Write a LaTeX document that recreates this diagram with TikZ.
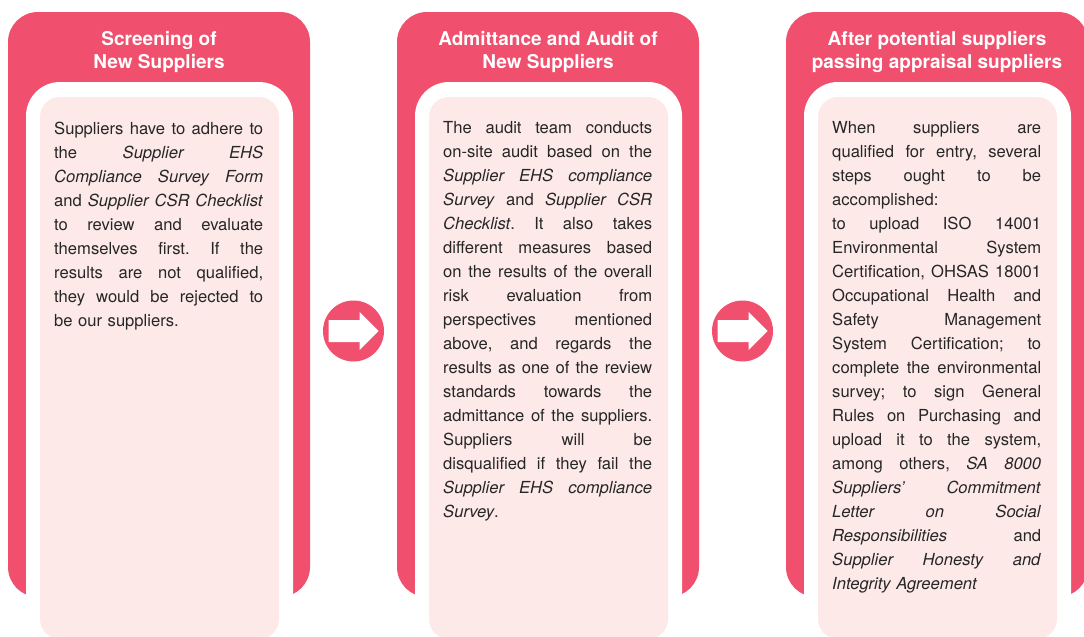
\documentclass[tikz,border=0pt]{standalone}
\usepackage{fontspec}
\setmainfont{TeX Gyre Heros}
\definecolor{redc}{HTML}{F04F6D}
\definecolor{pinkc}{HTML}{FCE9E8}
\definecolor{txtc}{HTML}{262626}
\frenchspacing
\newcommand\jl[1]{\makebox[209pt][s]{\spaceskip=0.25em plus 1fil\relax\xspaceskip=\spaceskip #1}}
\begin{document}
\begin{tikzpicture}[x=1pt,y=-1pt,
  titletext/.style={text=white,font=\bfseries\fontsize{19}{23}\selectfont,align=center,inner sep=0pt},
  bodytext/.style={text=txtc,font=\fontsize{16.6}{24}\selectfont\frenchspacing,text width=209pt,align=left,inner sep=0pt,anchor=north west},
  outerbox/.style={fill=redc,rounded corners=30pt},
  innerbox/.style={fill=white,rounded corners=34pt},
  pinkbox/.style={fill=pinkc,rounded corners=20pt},
  arrowdisc/.style={circle,fill=redc,minimum size=61pt,inner sep=0pt}]
\useasboundingbox (0,0) rectangle (1084,637);
\clip (0,0) rectangle (1084,637);
\foreach \dx in {0,389,778}{
  \fill[outerbox] (8+\dx,12) rectangle (310+\dx,597);
  \fill[innerbox] (26+\dx,82) rectangle (293+\dx,700);
  \fill[pinkbox] (40+\dx,97) rectangle (279+\dx,639);
}
% arrows
\foreach \cx/\nm in {353.5/a1,742.5/a2}{
  \node[arrowdisc] (\nm) at (\cx,331) {};
  \fill[white] (\cx-25,320) -- (\cx+6,320) -- (\cx+6,312) -- (\cx+25,331) -- (\cx+6,350) -- (\cx+6,342) -- (\cx-25,342) -- cycle;
}
% titles
\node[titletext] (t1) at (159,52) {Screening of\\New Suppliers};
\node[titletext] (t2) at (548,52) {Admittance and Audit of\\New Suppliers};
\node[titletext] (t3) at (937,52) {After potential suppliers\\passing appraisal suppliers};
% bodies
\node[bodytext] (b1) at (54,121.5) {%
\jl{Suppliers have to adhere to}\\
\jl{the \textit{Supplier EHS}}\\
\jl{\textit{Compliance Survey Form}}\\
\jl{and \textit{Supplier CSR Checklist}}\\
\jl{to review and evaluate}\\
\jl{themselves first. If the}\\
\jl{results are not qualified,}\\
\jl{they would be rejected to}\\
be our suppliers.};
\node[bodytext] (b2) at (443,121.5) {%
\jl{The audit team conducts}\\
\jl{on-site audit based on the}\\
\jl{\textit{Supplier EHS compliance}}\\
\jl{\textit{Survey} and \textit{Supplier CSR}}\\
\jl{\textit{Checklist}. It also takes}\\
\jl{different measures based}\\
\jl{on the results of the overall}\\
\jl{risk evaluation from}\\
\jl{perspectives mentioned}\\
\jl{above, and regards the}\\
\jl{results as one of the review}\\
\jl{standards towards the}\\
\jl{admittance of the suppliers.}\\
\jl{Suppliers will be}\\
\jl{disqualified if they fail the}\\
\jl{\textit{Supplier EHS compliance}}\\
\textit{Survey}.};
\node[bodytext] (b3) at (832,121.5) {%
\jl{When suppliers are}\\
\jl{qualified for entry, several}\\
\jl{steps ought to be}\\
accomplished:\\
\jl{to upload ISO 14001}\\
\jl{Environmental System}\\
\jl{Certification, OHSAS 18001}\\
\jl{Occupational Health and}\\
\jl{Safety Management}\\
\jl{System Certification; to}\\
\jl{complete the environmental}\\
\jl{survey; to sign General}\\
\jl{Rules on Purchasing and}\\
\jl{upload it to the system,}\\
\jl{among others, \textit{SA 8000}}\\
\jl{\textit{Suppliers’ Commitment}}\\
\jl{\textit{Letter on Social}}\\
\jl{\textit{Responsibilities} and}\\
\jl{\textit{Supplier Honesty and}}\\
\textit{Integrity Agreement}};
\end{tikzpicture}
\end{document}
